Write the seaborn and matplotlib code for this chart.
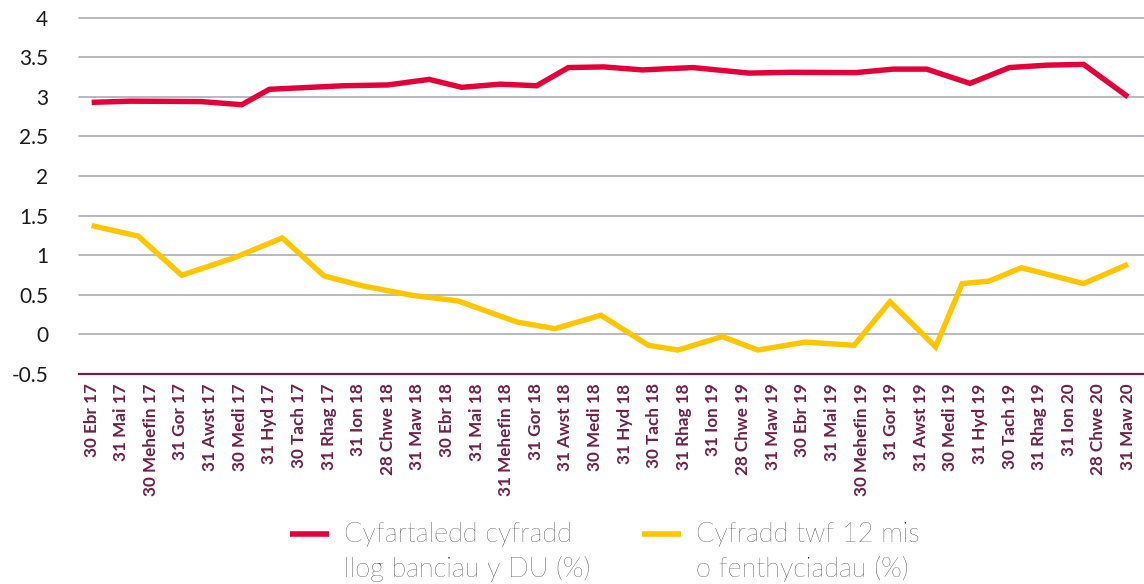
import numpy as np
import pandas as pd
import matplotlib
matplotlib.use("Agg")
import matplotlib.pyplot as plt
import seaborn as sns

# ---------------- data ----------------
date_labels = [
    "30 Ebr 17", "31 Mai 17", "30 Mehefin 17", "31 Gor 17", "31 Awst 17", "30 Medi 17",
    "31 Hyd 17", "30 Tach 17", "31 Rhag 17", "31 Ion 18", "28 Chwe 18", "31 Maw 18",
    "30 Ebr 18", "31 Mai 18", "31 Mehefin 18", "31 Gor 18", "31 Awst 18", "30 Medi 18",
    "31 Hyd 18", "30 Tach 18", "31 Rhag 18", "31 Ion 19", "28 Chwe 19", "31 Maw 19",
    "30 Ebr 19", "31 Mai 19", "30 Mehefin 19", "31 Gor 19", "31 Awst 19", "30 Medi 19",
    "31 Hyd 19", "30 Tach 19", "31 Rhag 19", "31 Ion 20", "28 Chwe 20", "31 Maw 20",
]

# position along the month axis (0 = 30 Ebr 17) and value
rate_x = [0, 1.3, 3.7, 5.07, 6.0, 8.5, 10.0, 11.4, 12.5, 13.8, 15.03, 16.1, 17.3,
          18.6, 20.3, 22.2, 23.6, 25.8, 27.07, 28.2, 29.66, 31.0, 32.25, 33.5, 35]
rate_y = [2.93, 2.945, 2.94, 2.90, 3.095, 3.14, 3.15, 3.22, 3.12, 3.16, 3.14, 3.37, 3.378,
          3.34, 3.37, 3.30, 3.31, 3.306, 3.35, 3.35, 3.17, 3.37, 3.40, 3.41, 3.0]

growth_x = [0, 1.57, 3.04, 4.84, 6.44, 7.85, 9.16, 10.85, 12.38, 14.36, 15.65, 17.2,
            18.8, 19.8, 21.3, 22.5, 24.1, 25.75, 26.96, 28.5, 29.4, 30.3, 31.4, 33.5, 35]
growth_y = [1.373, 1.24, 0.745, 0.97, 1.217, 0.736, 0.61, 0.49, 0.42, 0.154, 0.07, 0.24,
            -0.14, -0.20, -0.03, -0.20, -0.10, -0.14, 0.41, -0.16, 0.64, 0.67, 0.84, 0.64, 0.884]

series_names = ["Cyfartaledd cyfradd\nllog banciau y DU (%)",
                "Cyfradd twf 12 mis\no fenthyciadau (%)"]
y_ticks = [-0.5, 0, 0.5, 1, 1.5, 2, 2.5, 3, 3.5, 4]
y_tick_labels = ["-0.5", "0", "0.5", "1", "1.5", "2", "2.5", "3", "3.5", "4"]

# ---------------- style ----------------
RED = "#E4003B"
YELLOW = "#FFC600"
GRID = "#A9ACB8"
PURPLE = "#6E2149"
TEXT = "#1A1A1A"

sns.set_theme(style="white")
plt.rcParams["font.family"] = ["Lato", "DejaVu Sans"]

df = pd.concat([
    pd.DataFrame({"x": rate_x, "value": rate_y, "series": series_names[0]}),
    pd.DataFrame({"x": growth_x, "value": growth_y, "series": series_names[1]}),
], ignore_index=True)

fig = plt.figure(figsize=(11.44, 5.84), dpi=100)
ax = fig.add_axes([0.069, 0.360, 0.931, 0.6097])

sns.lineplot(data=df, x="x", y="value", hue="series", hue_order=series_names,
             palette=[RED, YELLOW], estimator=None, sort=True, linewidth=3.9,
             ax=ax, legend=True)
for ln in ax.get_lines():
    ln.set_solid_joinstyle("miter")
    ln.set_solid_capstyle("butt")

ax.set_xlim(-0.43, 35.54)
ax.set_ylim(-0.5, 4)
ax.set_xlabel("")
ax.set_ylabel("")

ax.set_xticks(range(len(date_labels)))
ax.set_xticklabels(date_labels, rotation=90, fontsize=12.3, fontweight="bold",
                   color=PURPLE)
ax.set_yticks(y_ticks)
ax.set_yticklabels(y_tick_labels, fontsize=15, fontweight="normal", color=TEXT)
ax.tick_params(axis="both", length=0)
ax.tick_params(axis="y", pad=22)
ax.tick_params(axis="x", pad=7)

ax.yaxis.grid(True, color=GRID, linewidth=1.2)
ax.xaxis.grid(False)
for gl in ax.get_ygridlines():
    gl.set_clip_on(False)
for s in ["top", "right", "left"]:
    ax.spines[s].set_visible(False)
ax.spines["bottom"].set_color(PURPLE)
ax.spines["bottom"].set_linewidth(1.6)
ax.set_axisbelow(True)

handles, labels = ax.get_legend_handles_labels()
ax.get_legend().remove()
leg = fig.legend(handles, labels, loc="upper left", bbox_to_anchor=(0.2535, 0.106),
                 ncol=2, frameon=False, handlelength=1.45,
                 handletextpad=0.55, columnspacing=1.9, borderpad=0, borderaxespad=0,
                 prop={"weight": "light", "size": 19.5})
for t in leg.get_texts():
    t.set_linespacing(1.4)
    t.set_color("#000000")
for hl in leg.get_lines():
    hl.set_linewidth(4)
    yd = np.asarray(hl.get_ydata(), dtype=float)
    hl.set_ydata(yd + 13.5)

fig.savefig("out.png", dpi=100)
